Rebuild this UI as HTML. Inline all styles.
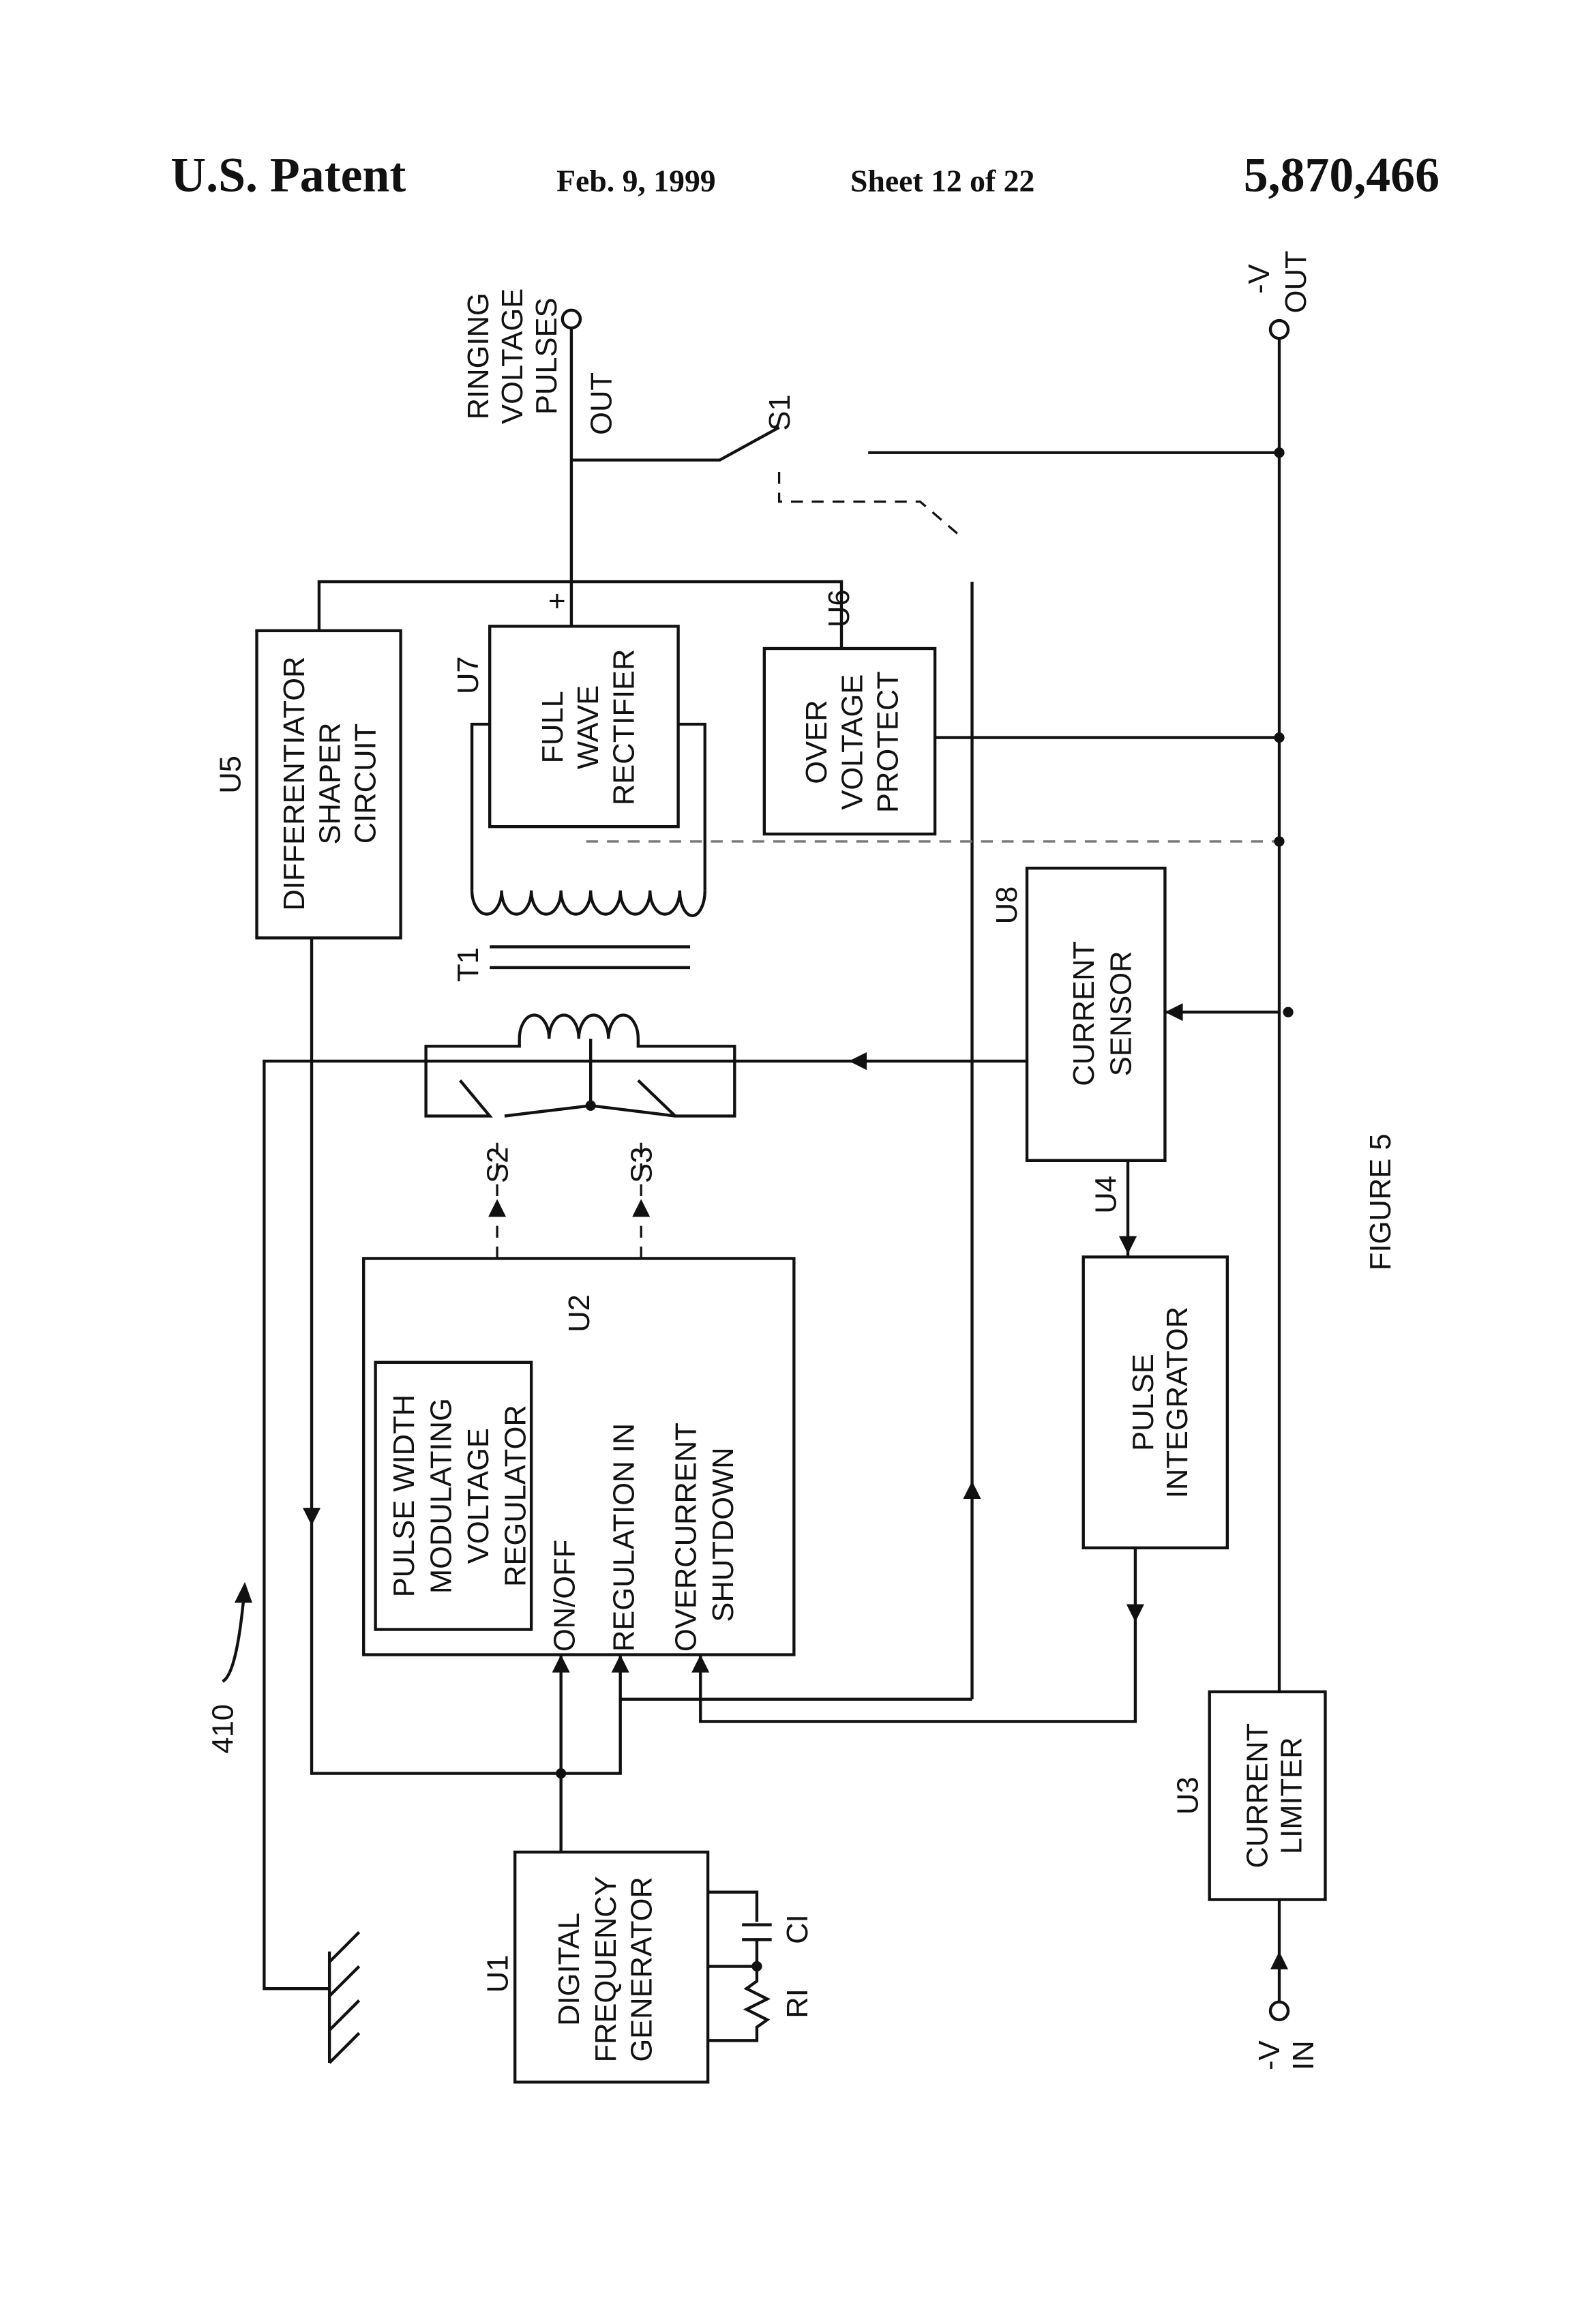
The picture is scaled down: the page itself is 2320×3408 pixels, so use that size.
<!DOCTYPE html>
<html><head><meta charset="utf-8"><style>
html,body{margin:0;padding:0;background:#fff;}
svg{display:block}
.t{font-family:"Liberation Sans",sans-serif;font-size:20px;fill:#111}
.h{font-family:"Liberation Serif",serif;font-weight:bold;fill:#111}
</style></head><body>
<svg width="2320" height="3408" viewBox="0 0 1066 1566" preserveAspectRatio="none" xmlns="http://www.w3.org/2000/svg">
<rect width="1080" height="1586" fill="#fff"/>
<text class="h" x="115" y="129" font-size="33">U.S. Patent</text>
<text class="h" x="375" y="129" font-size="21">Feb. 9, 1999</text>
<text class="h" x="573" y="129" font-size="21">Sheet 12 of 22</text>
<text class="h" x="838" y="129" font-size="33">5,870,466</text>

<g fill="none" stroke="#111" stroke-width="2">
<rect x="173" y="425" width="97" height="207"/>
<rect x="330" y="422" width="127" height="135"/>
<rect x="515" y="437" width="115" height="125"/>
<rect x="692" y="585" width="93" height="197"/>
<rect x="245" y="848" width="290" height="267"/>
<rect x="253" y="918" width="105" height="180"/>
<rect x="730" y="847" width="97" height="196"/>
<rect x="347" y="1248" width="130" height="155"/>
<rect x="815" y="1140" width="78" height="140"/>
<circle cx="385" cy="215" r="6"/>
<line x1="385" y1="221" x2="385" y2="422"/>
<polyline points="385,310 485,310 525,288"/>
<polyline points="215,425 215,392 567,392 567,437"/>
<circle cx="862" cy="222" r="6"/>
<line x1="862" y1="228" x2="862" y2="1140"/>
<line x1="585" y1="305" x2="862" y2="305"/>
<line x1="655" y1="392" x2="655" y2="1145"/>
<polyline points="655,1145 418,1145"/>
<line x1="630" y1="497" x2="862" y2="497"/>
<polyline points="330,488 318,488 318,600"/>
<polyline points="457,488 475,488 475,600"/>
<path d="M318,600 a10,16 0 0 0 20,0 a10,16 0 0 0 20,0 a10,16 0 0 0 20,0 a10,16 0 0 0 20,0 a10,16 0 0 0 20,0 a10,16 0 0 0 20,0 a10,16 0 0 0 20,0 a8,16 0 0 0 17,0"/>
<line x1="330" y1="638" x2="465" y2="638"/>
<line x1="330" y1="652" x2="465" y2="652"/>
<path d="M350,700 a10,16 0 0 1 20,0 a10,16 0 0 1 20,0 a10,16 0 0 1 20,0 a10,16 0 0 1 20,0"/>
<polyline points="350,700 350,705 287,705 287,752 330,752 310,728"/>
<polyline points="430,700 430,705 495,705 495,752 455,752 430,728"/>
<line x1="398" y1="745" x2="398" y2="700"/>
<polyline points="340,752 398,745 455,752"/>
<line x1="862" y1="682" x2="785" y2="682"/>
<polyline points="692,715 178,715 178,1340 222,1340"/>
<line x1="760" y1="782" x2="760" y2="847"/>
<polyline points="210,632 210,1195 418,1195 418,1115"/>
<line x1="378" y1="1248" x2="378" y2="1115"/>
<polyline points="765,1043 765,1160 472,1160 472,1115"/>
<line x1="862" y1="1280" x2="862" y2="1349"/>
<circle cx="862" cy="1355" r="6"/>
<line x1="222" y1="1315" x2="222" y2="1390"/>
<line x1="222" y1="1322" x2="242" y2="1302"/>
<line x1="222" y1="1345" x2="242" y2="1325"/>
<line x1="222" y1="1368" x2="242" y2="1348"/>
<line x1="222" y1="1390" x2="242" y2="1370"/>
<polyline points="477,1275 510,1275 510,1295"/>
<line x1="500" y1="1297" x2="520" y2="1297"/>
<line x1="500" y1="1307" x2="520" y2="1307"/>
<polyline points="510,1307 510,1325 477,1325"/>
<polyline points="510,1325 510,1335 503,1340 517,1347 503,1354 517,1361 510,1366 510,1375 477,1375"/>
<path d="M165,1068 q-5,60 -15,65" />
</g>
<g fill="none" stroke="#111" stroke-width="1.5" stroke-dasharray="8,6">
<polyline points="525,318 525,338 620,338 648,362"/>
<line x1="395" y1="567" x2="862" y2="567" stroke="#777"/>
<line x1="335" y1="770" x2="335" y2="848"/>
<line x1="432" y1="770" x2="432" y2="848"/>
</g>
<g fill="#111">
<circle cx="862" cy="305" r="3.5"/><circle cx="862" cy="497" r="3.5"/><circle cx="862" cy="567" r="3.5"/><circle cx="868" cy="682" r="3.5"/>
<circle cx="398" cy="745" r="3.5"/><circle cx="378" cy="1195" r="3.5"/><circle cx="510" cy="1325" r="3.5"/>
<polygon points="785,682 797,676 797,688"/>
<polygon points="572,715 584,709 584,721"/>
<polygon points="210,1028 204,1016 216,1016"/>
<polygon points="655,998 649,1010 661,1010"/>
<polygon points="378,1115 372,1127 384,1127"/>
<polygon points="418,1115 412,1127 424,1127"/>
<polygon points="472,1115 466,1127 478,1127"/>
<polygon points="765,1093 759,1081 771,1081"/>
<polygon points="760,845 754,833 766,833"/>
<polygon points="862,1315 856,1327 868,1327"/>
<polygon points="335,808 329,820 341,820"/>
<polygon points="432,808 426,820 438,820"/>
<polygon points="165,1066 158,1080 170,1080"/>
</g>

<g class="t" text-anchor="middle">
<text transform="translate(205,528) rotate(-90)">DIFFERENTIATOR</text>
<text transform="translate(229,528) rotate(-90)">SHAPER</text>
<text transform="translate(253,528) rotate(-90)">CIRCUIT</text>
<text transform="translate(379,490) rotate(-90)">FULL</text>
<text transform="translate(403,490) rotate(-90)">WAVE</text>
<text transform="translate(427,490) rotate(-90)">RECTIFIER</text>
<text transform="translate(557,500) rotate(-90)">OVER</text>
<text transform="translate(581,500) rotate(-90)">VOLTAGE</text>
<text transform="translate(605,500) rotate(-90)">PROTECT</text>
<text transform="translate(737,683) rotate(-90)">CURRENT</text>
<text transform="translate(762,683) rotate(-90)">SENSOR</text>
<text transform="translate(777,945) rotate(-90)">PULSE</text>
<text transform="translate(800,945) rotate(-90)">INTEGRATOR</text>
<text transform="translate(854,1210) rotate(-90)">CURRENT</text>
<text transform="translate(877,1210) rotate(-90)">LIMITER</text>
<text transform="translate(390,1327) rotate(-90)">DIGITAL</text>
<text transform="translate(415,1327) rotate(-90)">FREQUENCY</text>
<text transform="translate(439,1327) rotate(-90)">GENERATOR</text>
<text transform="translate(279,1008) rotate(-90)">PULSE WIDTH</text>
<text transform="translate(304,1008) rotate(-90)">MODULATING</text>
<text transform="translate(329,1008) rotate(-90)">VOLTAGE</text>
<text transform="translate(354,1008) rotate(-90)">REGULATOR</text>
<text transform="translate(329,240) rotate(-90)">RINGING</text>
<text transform="translate(352,240) rotate(-90)">VOLTAGE</text>
<text transform="translate(375,240) rotate(-90)">PULSES</text>
<text transform="translate(412,272) rotate(-90)">OUT</text>
<text transform="translate(855,188) rotate(-90)">-V</text>
<text transform="translate(880,190) rotate(-90)">OUT</text>
<text transform="translate(862,1385) rotate(-90)">-V</text>
<text transform="translate(885,1385) rotate(-90)">IN</text>
<text transform="translate(162,522) rotate(-90)">U5</text>
<text transform="translate(322,455) rotate(-90)">U7</text>
<text transform="translate(572,410) rotate(-90)">U6</text>
<text transform="translate(685,610) rotate(-90)">U8</text>
<text transform="translate(752,805) rotate(-90)">U4</text>
<text transform="translate(807,1210) rotate(-90)">U3</text>
<text transform="translate(342,1330) rotate(-90)">U1</text>
<text transform="translate(397,885) rotate(-90)">U2</text>
<text transform="translate(322,650) rotate(-90)">T1</text>
<text transform="translate(532,278) rotate(-90)">S1</text>
<text transform="translate(342,785) rotate(-90)">S2</text>
<text transform="translate(439,785) rotate(-90)">S3</text>
<text transform="translate(544,1300) rotate(-90)">CI</text>
<text transform="translate(544,1350) rotate(-90)">RI</text>
<text transform="translate(157,1165) rotate(-90)">410</text>
<text transform="translate(937,810) rotate(-90)">FIGURE 5</text>
<text transform="translate(382,405) rotate(-90)">+</text>
</g>
<g class="t" text-anchor="start">
<text transform="translate(387,1113) rotate(-90)">ON/OFF</text>
<text transform="translate(427,1113) rotate(-90)">REGULATION IN</text>
<text transform="translate(469,1113) rotate(-90)">OVERCURRENT</text>
<text transform="translate(494,1093) rotate(-90)">SHUTDOWN</text>
</g>
</svg>
</body></html>
